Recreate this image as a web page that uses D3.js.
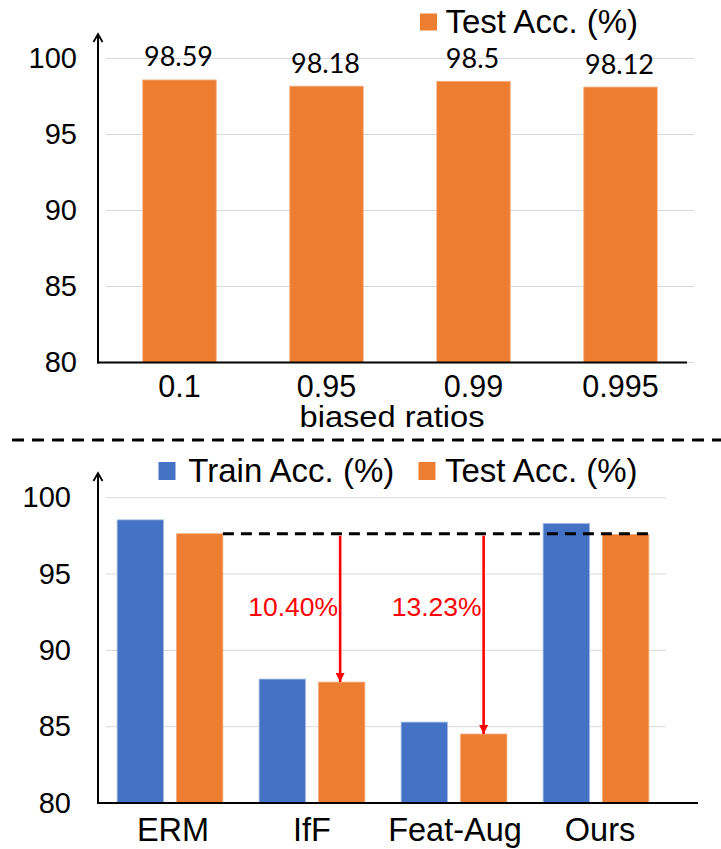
<!DOCTYPE html>
<html>
<head>
<meta charset="utf-8">
<script src="https://cdn.jsdelivr.net/npm/d3@7"></script>
<style>
  html, body { margin: 0; padding: 0; background: #fff; }
  svg { display: block; }
  text { fill: #000; }
</style>
</head>
<body>
<svg id="chart" width="721" height="849"></svg>
<script>
// ---- Data ----
const ratioCategories = ["0.1", "0.95", "0.99", "0.995"];
const ratioTestAcc = [98.59, 98.18, 98.5, 98.12];

const methodCategories = ["ERM", "IfF", "Feat-Aug", "Ours"];
const methodTrainAcc = [98.55, 88.12, 85.3, 98.32];
const methodTestAcc = [97.64, 87.92, 84.52, 97.6];

const yTicks = [80, 85, 90, 95, 100];
const seriesNames = ["Train Acc. (%)", "Test Acc. (%)"];
const dropTargets = ["IfF", "Feat-Aug"];
const dropLabels = ["10.40%", "13.23%"];

// ---- Style ----
const BLUE = "#4472C4", ORANGE = "#ED7D31", GRID = "#d9d9d9";
const SANS = "'Liberation Sans', Arial, sans-serif";

const svg = d3.select("#chart");
const defs = svg.append("defs");
defs.append("marker").attr("id", "redArrow")
  .attr("viewBox", "0 0 10 10").attr("refX", 10).attr("refY", 5)
  .attr("markerWidth", 10).attr("markerHeight", 9)
  .attr("markerUnits", "userSpaceOnUse").attr("orient", "auto")
  .append("path").attr("d", "M0,0 L10,5 L0,10 Z").attr("fill", "#ff0000");

function drawYAxis(g, y, x0, gridX1, tickPad, arrowTop) {
  g.append("g").selectAll("line").data(yTicks).join("line")
    .attr("x1", x0 + 8).attr("x2", gridX1)
    .attr("y1", d => y(d)).attr("y2", d => y(d))
    .attr("stroke", GRID).attr("stroke-width", 1);
  const ax = g.append("g").attr("transform", `translate(${x0},0)`)
    .call(d3.axisLeft(y).tickValues(yTicks).tickSize(0).tickPadding(tickPad));
  ax.select(".domain").remove();
  ax.selectAll("text").style("font-family", SANS).style("font-size", "29px").attr("fill", "#000");
  // axis line with an open arrowhead at the top
  g.append("line").attr("x1", x0).attr("x2", x0)
    .attr("y1", y(80) + 1).attr("y2", arrowTop + 1)
    .attr("stroke", "#000").attr("stroke-width", 2);
  g.append("path")
    .attr("d", `M${x0 - 4.5},${arrowTop + 8} L${x0},${arrowTop} L${x0 + 4.5},${arrowTop + 8}`)
    .attr("fill", "none").attr("stroke", "#000").attr("stroke-width", 1.8)
    .attr("stroke-linejoin", "miter");
}

// ---- Top chart: test accuracy vs biased ratio ----
{
  const g = svg.append("g");
  const x = d3.scaleBand().domain(ratioCategories).range([106, 694])
    .paddingInner(0.5).paddingOuter(0.25);
  const y = d3.scaleLinear().domain([80, 100]).range([362.5, 58.5]);

  drawYAxis(g, y, 98, 694, 21, 34);

  g.selectAll("rect.bar").data(ratioTestAcc).join("rect").attr("class", "bar")
    .attr("x", (d, i) => x(ratioCategories[i])).attr("width", x.bandwidth())
    .attr("y", d => y(d)).attr("height", d => y(80) - y(d))
    .attr("fill", ORANGE).attr("stroke", "#f6b083").attr("stroke-width", 0.8);

  g.selectAll("text.val").data(ratioTestAcc).join("text").attr("class", "val")
    .attr("x", (d, i) => x(ratioCategories[i]) + x.bandwidth() / 2 - 1)
    .attr("y", d => y(d) - 13.5)
    .attr("text-anchor", "middle")
    .style("font-family", "Lato, 'Open Sans', sans-serif").style("font-size", "27px")
    .text(d => d);

  const xa = g.append("g").attr("transform", `translate(0,${y(80)})`)
    .call(d3.axisBottom(x).tickSize(0).tickPadding(13));
  xa.select(".domain").remove();
  xa.selectAll("text").style("font-family", SANS).style("font-size", "30.5px").attr("fill", "#000");
  g.append("line").attr("x1", 97).attr("x2", 687)
    .attr("y1", y(80)).attr("y2", y(80)).attr("stroke", "#000").attr("stroke-width", 2);

  g.append("text").attr("x", 392).attr("y", 427)
    .attr("text-anchor", "middle")
    .style("font-family", SANS).style("font-size", "30px")
    .attr("textLength", 185).attr("lengthAdjust", "spacingAndGlyphs")
    .text("biased ratios");

  // legend
  g.append("rect").attr("x", 420).attr("y", 13.5).attr("width", 17).attr("height", 17).attr("fill", ORANGE);
  g.append("text").attr("x", 445.5).attr("y", 33.3)
    .style("font-family", SANS).style("font-size", "33px").text(seriesNames[1]);
}

// ---- Separator ----
svg.append("line").attr("x1", 12).attr("x2", 721).attr("y1", 440).attr("y2", 440)
  .attr("stroke", "#000").attr("stroke-width", 3).attr("stroke-dasharray", "12,8");

// ---- Bottom chart: train/test accuracy per method ----
{
  const g = svg.append("g");
  const x0 = d3.scaleBand().domain(methodCategories).range([99, 667])
    .paddingInner(0.255).paddingOuter(0.1275);
  const x1 = d3.scaleBand().domain(seriesNames).range([0, x0.bandwidth()]).paddingInner(0.215);
  const y = d3.scaleLinear().domain([80, 100]).range([803, 497.7]);
  const color = d3.scaleOrdinal().domain(seriesNames).range([BLUE, ORANGE]);

  drawYAxis(g, y, 98, 666, 27, 473);

  const rows = methodCategories.map((m, i) => ({
    method: m,
    values: [
      { key: seriesNames[0], v: methodTrainAcc[i] },
      { key: seriesNames[1], v: methodTestAcc[i] }
    ]
  }));

  g.selectAll("g.grp").data(rows).join("g").attr("class", "grp")
    .attr("transform", d => `translate(${x0(d.method)},0)`)
    .selectAll("rect").data(d => d.values).join("rect")
    .attr("x", d => x1(d.key)).attr("width", x1.bandwidth())
    .attr("y", d => y(d.v)).attr("height", d => y(80) - y(d.v))
    .attr("fill", d => color(d.key))
    .attr("stroke", d => d.key === seriesNames[0] ? "#a9bfe6" : "#f6b083")
    .attr("stroke-width", 0.8);

  const xa = g.append("g").attr("transform", `translate(0,${y(80)})`)
    .call(d3.axisBottom(x0).tickSize(0).tickPadding(15));
  xa.select(".domain").remove();
  xa.selectAll("text").style("font-family", SANS).style("font-size", "32.5px").attr("fill", "#000")
    .attr("dx", (d, i) => [3, 0, 1, 4][i]);
  g.append("line").attr("x1", 97).attr("x2", 698)
    .attr("y1", y(80)).attr("y2", y(80)).attr("stroke", "#000").attr("stroke-width", 2);

  // reference line at the ERM test accuracy
  const refY = y(methodTestAcc[0]);
  const refX0 = x0("ERM") + x1(seriesNames[1]) + x1.bandwidth();
  const refX1 = x0("Ours") + x1(seriesNames[1]) + x1.bandwidth();
  g.append("line").attr("x1", refX0).attr("x2", refX1)
    .attr("y1", refY).attr("y2", refY)
    .attr("stroke", "#000").attr("stroke-width", 3).attr("stroke-dasharray", "11,7");

  // drop arrows from the reference line to the test bars
  dropTargets.forEach((m, k) => {
    const i = methodCategories.indexOf(m);
    const ax = x0(m) + x1(seriesNames[1]) + x1.bandwidth() / 2 - (k === 0 ? 1.5 : 0);
    g.append("line").attr("x1", ax).attr("x2", ax)
      .attr("y1", refY + 2).attr("y2", y(methodTestAcc[i]))
      .attr("stroke", "#ff0000").attr("stroke-width", 2.6)
      .attr("marker-end", "url(#redArrow)");
    g.append("text").attr("x", ax - 2).attr("y", 615.7)
      .attr("text-anchor", "end")
      .style("font-family", SANS).style("font-size", "26.5px")
      .attr("fill", "#ff0000").style("fill", "#ff0000")
      .text(dropLabels[k]);
  });

  // legend
  g.append("rect").attr("x", 158.5).attr("y", 462).attr("width", 17).attr("height", 18).attr("fill", BLUE);
  g.append("text").attr("x", 188.3).attr("y", 481.7)
    .style("font-family", SANS).style("font-size", "33px").text(seriesNames[0]);
  g.append("rect").attr("x", 418.5).attr("y", 462).attr("width", 17).attr("height", 18).attr("fill", ORANGE);
  g.append("text").attr("x", 445).attr("y", 481.7)
    .style("font-family", SANS).style("font-size", "33px").text(seriesNames[1]);
}
</script>
</body>
</html>
